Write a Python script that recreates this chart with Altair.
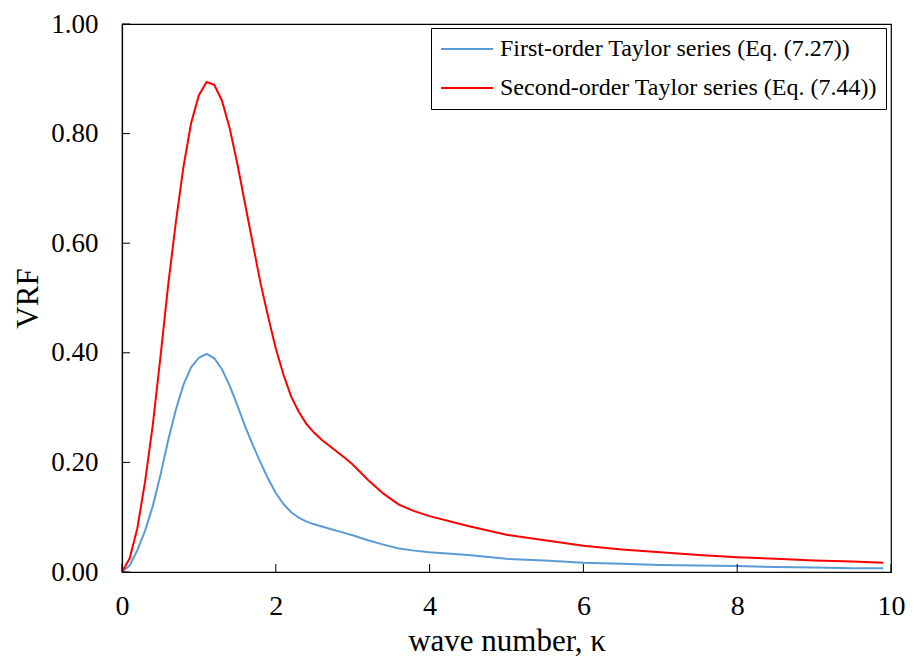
import altair as alt
import pandas as pd

# ---- data ----
first_x = [0.0, 0.1, 0.2, 0.3, 0.4, 0.5, 0.6, 0.7, 0.8, 0.9, 1.0, 1.1, 1.2, 1.3, 1.4, 1.5,
           1.6, 1.7, 1.8, 1.9, 2.0, 2.1, 2.2, 2.3, 2.4, 2.5, 2.6, 2.7, 2.8, 2.9, 3.0,
           3.2, 3.4, 3.6, 3.8, 4.0, 4.5, 5.0, 5.5, 6.0, 6.5, 7.0, 7.5, 8.0, 8.5, 9.0, 9.5, 9.9]
first_y = [0.000, 0.012, 0.040, 0.075, 0.120, 0.177, 0.240, 0.296, 0.342, 0.374, 0.391, 0.398,
           0.390, 0.370, 0.340, 0.304, 0.266, 0.232, 0.200, 0.170, 0.144, 0.124, 0.109, 0.099,
           0.092, 0.087, 0.083, 0.079, 0.075, 0.071, 0.067, 0.058, 0.050, 0.043, 0.039, 0.036,
           0.031, 0.024, 0.021, 0.017, 0.015, 0.013, 0.012, 0.011, 0.009, 0.008, 0.007, 0.007]

second_x = [0.0, 0.1, 0.2, 0.3, 0.4, 0.5, 0.6, 0.7, 0.8, 0.9, 1.0, 1.1, 1.2, 1.3, 1.4, 1.5,
            1.6, 1.7, 1.8, 1.9, 2.0, 2.1, 2.2, 2.3, 2.4, 2.5, 2.6, 2.7, 2.8, 2.9, 3.0,
            3.2, 3.4, 3.6, 3.8, 4.0, 4.5, 5.0, 5.5, 6.0, 6.5, 7.0, 7.5, 8.0, 8.5, 9.0, 9.5, 9.9]
second_y = [0.000, 0.025, 0.080, 0.165, 0.268, 0.392, 0.523, 0.638, 0.740, 0.820, 0.870, 0.894,
            0.889, 0.860, 0.810, 0.745, 0.672, 0.600, 0.528, 0.466, 0.408, 0.360, 0.320, 0.292,
            0.270, 0.254, 0.241, 0.230, 0.219, 0.208, 0.196, 0.168, 0.143, 0.123, 0.111, 0.102,
            0.084, 0.068, 0.058, 0.048, 0.041, 0.036, 0.031, 0.027, 0.024, 0.021, 0.019, 0.017]

series_names = ["First-order Taylor series (Eq. (7.27))",
                "Second-order Taylor series (Eq. (7.44))"]
series_colors = ["#5B9BD5", "#FF0000"]

x_ticks = [0, 2, 4, 6, 8, 10]
y_ticks = [0.0, 0.2, 0.4, 0.6, 0.8, 1.0]

# ---- build tables ----
df = pd.concat([
    pd.DataFrame({"k": first_x, "vrf": first_y, "series": series_names[0], "order": 0}),
    pd.DataFrame({"k": second_x, "vrf": second_y, "series": series_names[1], "order": 1}),
])
xt = pd.DataFrame({"t": x_ticks})
yt = pd.DataFrame({"t": y_ticks})

TOP = 16           # padding above plot (page margin adds 8)
W, H = 769, 548
FONT = "Liberation Serif"
TICK = 8

xscale = alt.Scale(domain=[0, 10], nice=False, zero=False)
yscale = alt.Scale(domain=[0, 1], nice=False, zero=False)

lines = alt.Chart(df).mark_line(strokeWidth=2).encode(
    x=alt.X("k:Q", scale=xscale,
            axis=alt.Axis(values=x_ticks, title="wave number, κ", format="d",
                          ticks=False, labelFlush=False, labelPadding=20, titlePadding=6,
                          labelFontSize=28)),
    y=alt.Y("vrf:Q", scale=yscale,
            axis=alt.Axis(values=y_ticks, title="VRF", format=".2f", labelFlush=False,
                          ticks=False, labelPadding=24, titlePadding=6,
                          labelFontSize=27)),
    color=alt.Color("series:N", sort=series_names,
                    scale=alt.Scale(domain=series_names, range=series_colors),
                    legend=alt.Legend(title=None, orient="none", legendX=W - 460, legendY=28 - 8 - TOP,
                                      symbolType="stroke", symbolSize=2700,
                                      symbolStrokeWidth=2, labelFont=FONT,
                                      labelFontSize=24, labelColor="#000",
                                      labelOffset=6, padding=9, rowPadding=15,
                                      clipHeight=24, strokeColor="#000",
                                      labelLimit=600)),
    order="order:Q",
    detail="series:N",
)

xtick_marks = alt.Chart(xt).mark_rule(color="#000", strokeWidth=1).encode(
    x=alt.X("t:Q", scale=xscale, title="wave number, κ"),
    y=alt.value(H),
    y2=alt.value(H - TICK),
)
ytick_marks = alt.Chart(yt).mark_rule(color="#000", strokeWidth=1).encode(
    y=alt.Y("t:Q", scale=yscale, title="VRF"),
    x=alt.value(0),
    x2=alt.value(TICK),
)

chart = alt.layer(lines, xtick_marks, ytick_marks).properties(
    width=W, height=H,
    background="white",
    autosize=alt.AutoSizeParams(type="none"),
    padding={"left": 114, "top": TOP, "right": 15, "bottom": 86},
).configure_view(
    stroke="#000", strokeWidth=1.2
).configure_axis(
    grid=False, domainColor="#000", domainWidth=1.2,
    labelFont=FONT, labelColor="#000",
    titleFont=FONT, titleFontSize=31, titleColor="#000", titleFontWeight="normal",
)

chart.save("out.html", embed_options={"renderer": "svg", "actions": False})
